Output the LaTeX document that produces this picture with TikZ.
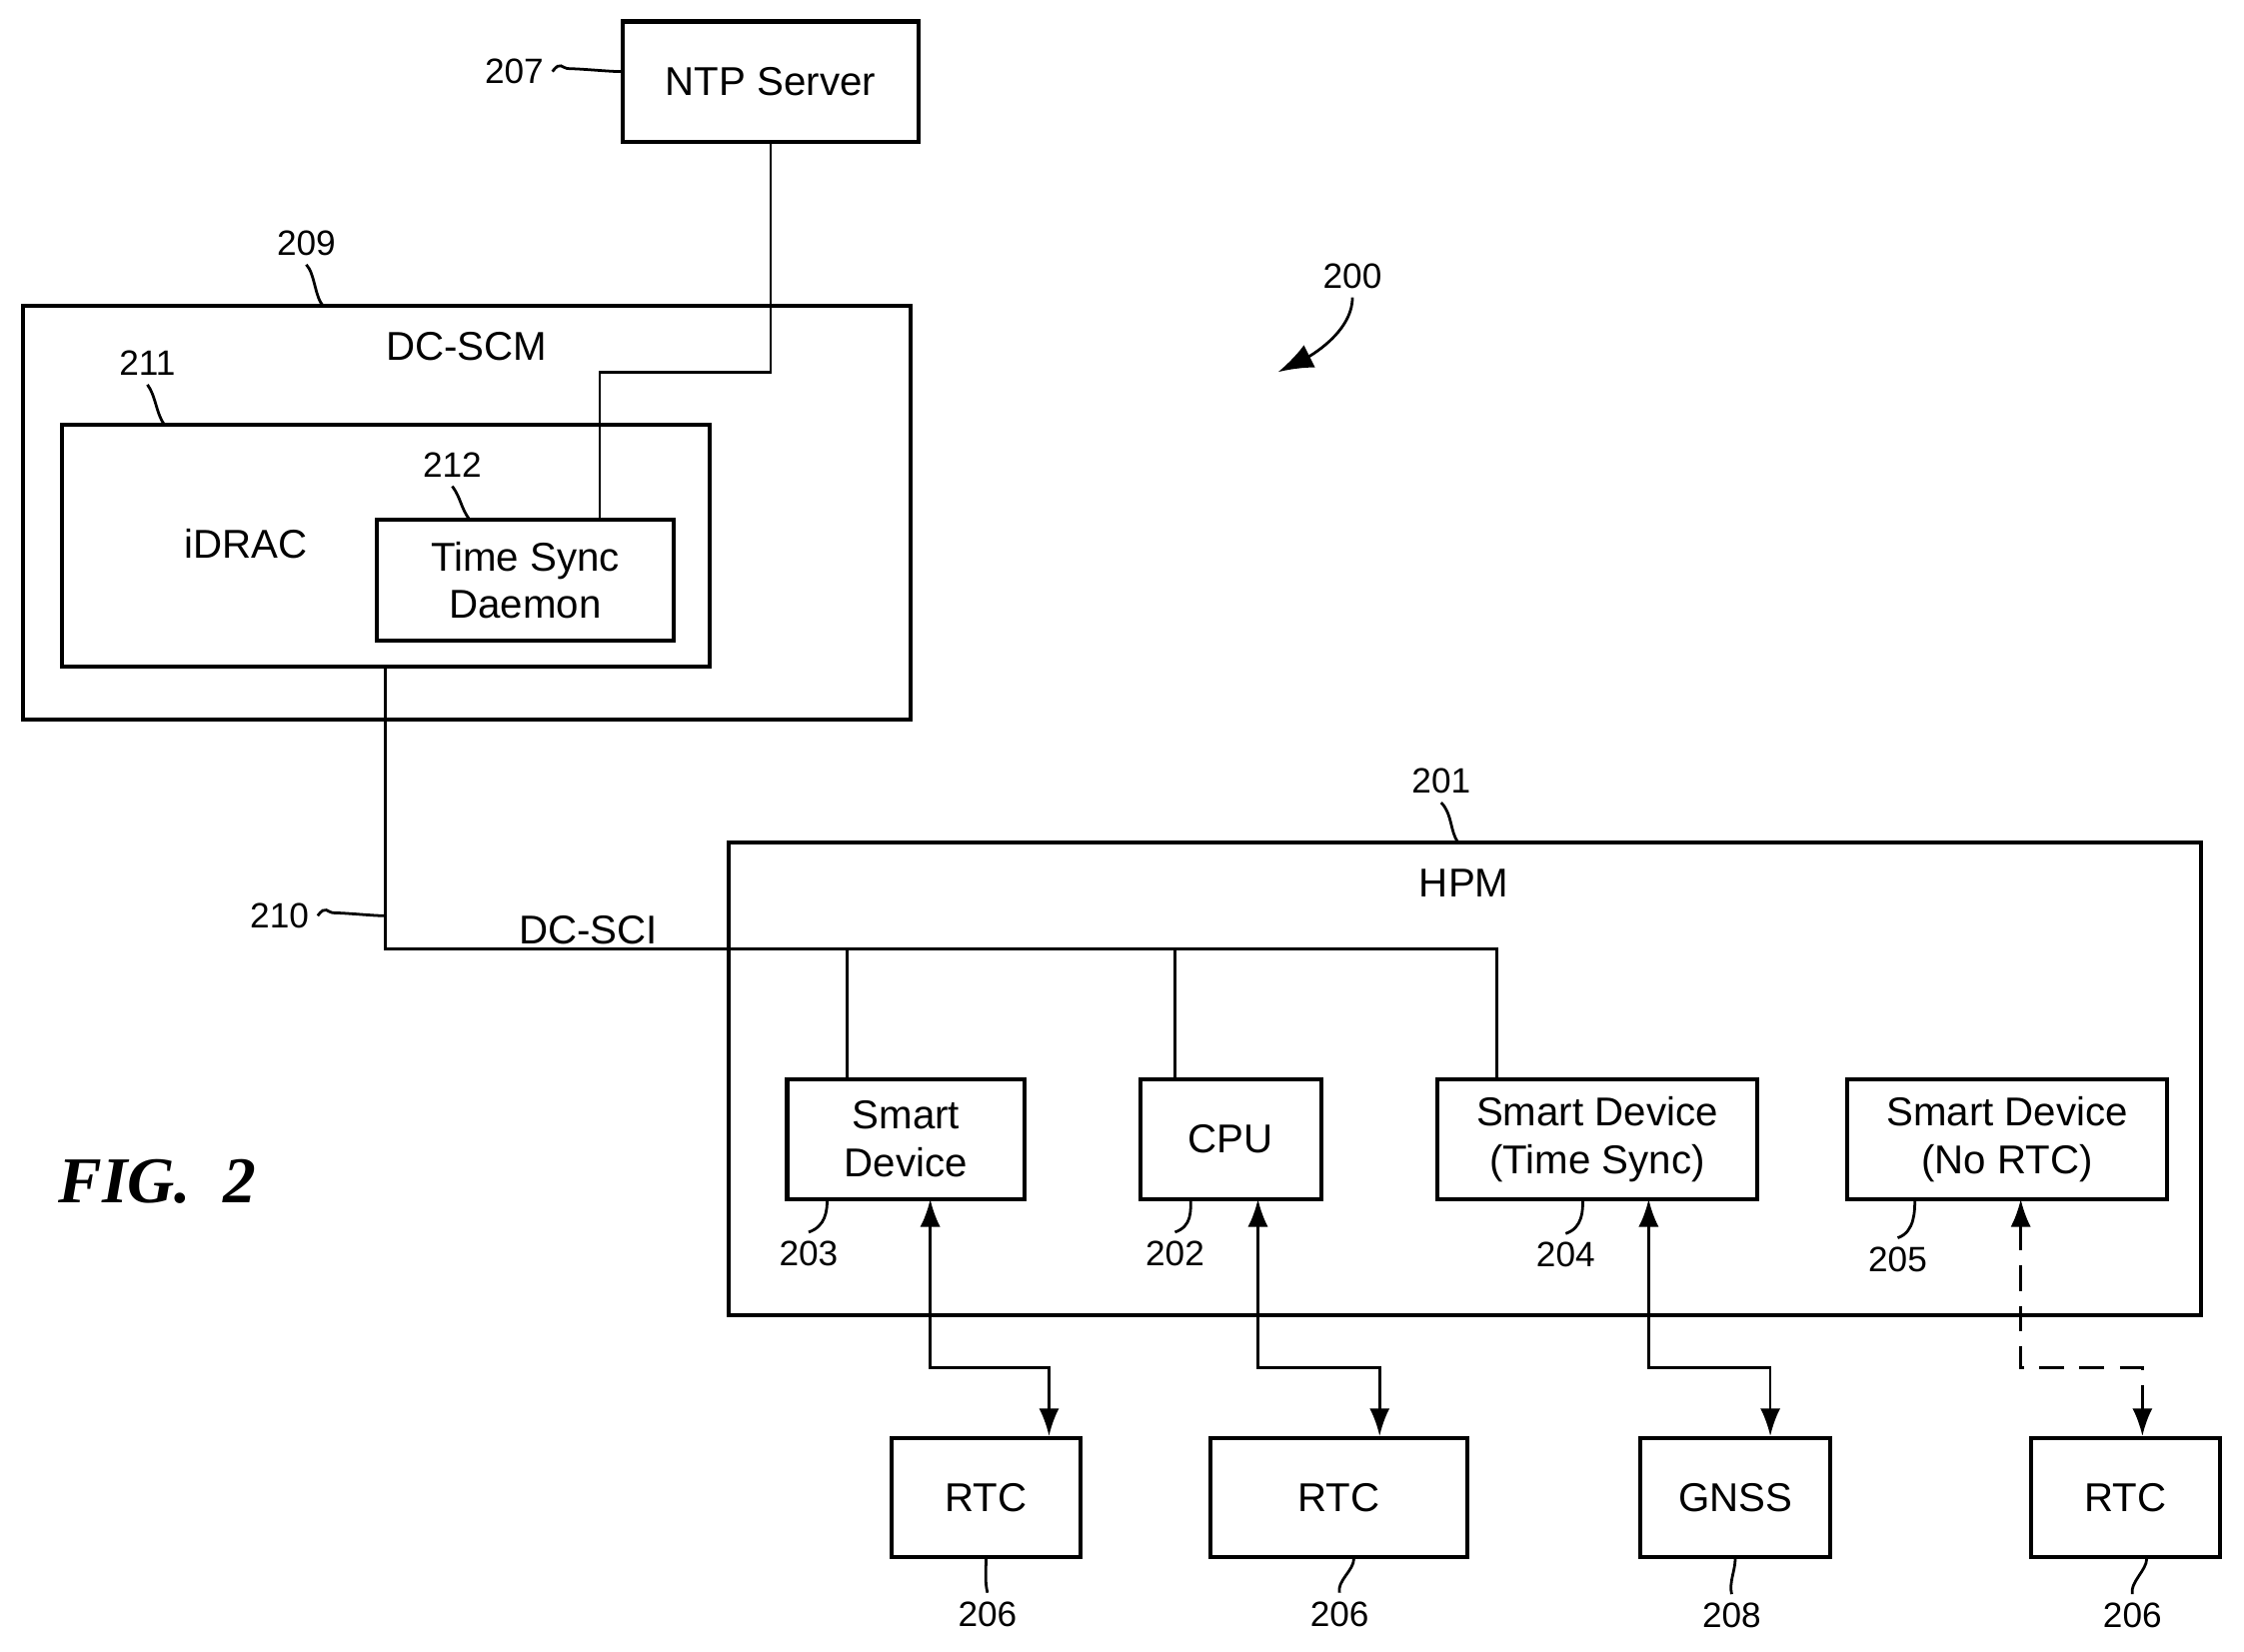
\documentclass[tikz,border=0pt]{standalone}
\usepackage{fontspec}
\setmainfont{Liberation Sans}
\newfontfamily\figfont{Liberation Serif}
\usetikzlibrary{arrows.meta}

\tikzset{
	box/.style={draw,line width=1.6pt,inner sep=0pt,align=center,font=\fontsize{16}{19}\selectfont},
	wire/.style={line width=1.1pt},
	ref/.style={font=\fontsize{14}{16}\selectfont},
	lbl/.style={font=\fontsize{16}{19}\selectfont},
	link/.style={wire,{Latex[length=11pt,width=8pt]}-{Latex[length=11pt,width=8pt]}},
}
\newcommand{\squigh}[2]{\draw[wire] (#1) .. controls +(6,-8) and +(-6,0) .. +(12,-2) .. controls +(8,0) and +(-8,0) .. (#2);}

\begin{document}
\begin{tikzpicture}[x=0.02cm,y=-0.02cm]
	\useasboundingbox (0,0) rectangle (1568,1154);

	% boxes
	\node[box,minimum width=4.14cm,minimum height=1.68cm] (ntp) at (538.5,57) {NTP Server};
	\node[box,minimum width=12.4cm,minimum height=5.78cm] (scm) at (326,358.5) {};
	\node[box,minimum width=9.06cm,minimum height=3.38cm] (idrac) at (269.5,381.5) {};
	\node[box,minimum width=4.16cm,minimum height=1.7cm] (tsd) at (367,405.5) {Time Sync\\Daemon};
	\node[box,minimum width=20.58cm,minimum height=6.6cm] (hpm) at (1023.5,754) {};
	\node[box,minimum width=3.32cm,minimum height=1.68cm] (sd) at (633,796) {Smart\\Device};
	\node[box,minimum width=2.52cm,minimum height=1.68cm] (cpu) at (860,796) {CPU};
	\node[box,minimum width=4.48cm,minimum height=1.68cm] (sdts) at (1116,796) {Smart Device\\(Time Sync)};
	\node[box,minimum width=4.46cm,minimum height=1.68cm] (sdnr) at (1402.5,796) {Smart Device\\(No RTC)};
	\node[box,minimum width=2.64cm,minimum height=1.66cm] (rtca) at (689,1046.5) {RTC};
	\node[box,minimum width=3.58cm,minimum height=1.66cm] (rtcb) at (935.5,1046.5) {RTC};
	\node[box,minimum width=2.66cm,minimum height=1.66cm] (gnss) at (1212.5,1046.5) {GNSS};
	\node[box,minimum width=2.64cm,minimum height=1.66cm] (rtcc) at (1485,1046.5) {RTC};

	% labels
	\node[lbl] (scmtxt) at (326,242) {DC-SCM};
	\node[lbl] (idractxt) at (172,380) {iDRAC};
	\node[lbl] (hpmtxt) at (1023,617) {HPM};
	\node[lbl] (scitxt) at (411,650) {DC-SCI};
	\node[font=\figfont\bfseries\itshape\fontsize{26}{30}\selectfont] (fig) at (110,826) {FIG.\ \ 2};

	% network
	\draw[wire] (ntp.south) |- (419,260) -- (419,363);
	\draw[wire] (269,466) |- (1046,663) -- (1046,754);
	\draw[wire] (592,663) -- (592,754);
	\draw[wire] (821,663) -- (821,754);

	% clock links
	\draw[link] (650,838) |- (733,956) -- (rtca.north -| 733,0);
	\draw[link] (879,838) |- (964,956) -- (rtcb.north -| 964,0);
	\draw[link] (1152,838) |- (1237,956) -- (gnss.north -| 1237,0);
	\draw[link,dashed,dash pattern=on 10pt off 6pt] (1412,838) |- (1497,956) -- (rtcc.north -| 1497,0);

	% reference numerals
	\node[ref,anchor=east] (n207) at (386,50) {207};
	\squigh{n207.east}{ntp.west |- 0,50}
	\node[ref] (n209) at (214,170) {209};
	\draw[wire] (n209.south) .. controls +(6,6) and +(-6,-6) .. (226,214);
	\node[ref] (n211) at (103,254) {211};
	\draw[wire] (n211.south) .. controls +(6,8) and +(-6,-8) .. (115,297);
	\node[ref] (n212) at (316,325) {212};
	\draw[wire] (n212.south) .. controls +(6,8) and +(-6,-8) .. (328,363);
	\node[ref,anchor=east] (n210) at (222,640) {210};
	\squigh{n210.east}{269,640}
	\node[ref] (n201) at (1007,546) {201};
	\draw[wire] (n201.south) .. controls +(8,8) and +(-6,-8) .. (1019,589);
	\node[ref] (n203) at (565,876) {203};
	\draw[wire] (n203.north) .. controls +(12,-4) and +(0,8) .. (578,838);
	\node[ref] (n202) at (821,876) {202};
	\draw[wire] (n202.north) .. controls +(12,-4) and +(0,8) .. (832,838);
	\node[ref] (n204) at (1094,877) {204};
	\draw[wire] (n204.north) .. controls +(12,-4) and +(0,8) .. (1106,838);
	\node[ref] (n205) at (1326,880) {205};
	\draw[wire] (n205.north) .. controls +(12,-4) and +(0,8) .. (1338,838);
	\node[ref] (n206a) at (690,1128) {206};
	\draw[wire] (n206a.north) .. controls +(-2,-8) and +(0,8) .. (rtca.south);
	\node[ref] (n206b) at (936,1128) {206};
	\draw[wire] (n206b.north) .. controls +(-2,-8) and +(0,8) .. (rtcb.south -| 946,0);
	\node[ref] (n208) at (1210,1129) {208};
	\draw[wire] (n208.north) .. controls +(-2,-8) and +(0,8) .. (gnss.south);
	\node[ref] (n206c) at (1490,1129) {206};
	\draw[wire] (n206c.north) .. controls +(-2,-8) and +(0,8) .. (rtcc.south -| 1500,0);
	\node[ref] (n200) at (945,193) {200};
	\draw[wire,-{Latex[length=14pt,width=10pt]}] (n200.south) .. controls +(0,25) and +(20,-10) .. (893,260);
\end{tikzpicture}
\end{document}
